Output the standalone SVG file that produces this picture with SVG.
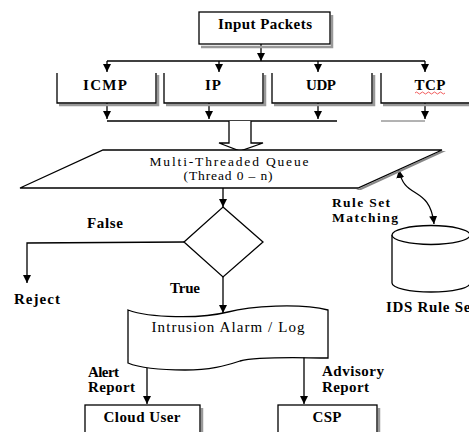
<svg xmlns="http://www.w3.org/2000/svg" width="469" height="432" viewBox="0 0 469 432">
<defs>
<style>
.ln{fill:none;stroke:#000;stroke-width:1.3}
.bx{fill:#fff;stroke:#000;stroke-width:1.3}
.sh{fill:none;stroke:#999;stroke-width:2.5}
.t{font-family:"Liberation Serif","Times New Roman",serif;font-size:15px;fill:#000;text-anchor:middle}
.s{font-size:13.5px}
.b{font-weight:bold}
.l{text-anchor:start}
</style>
<marker id="ah" viewBox="0 0 8 8" markerWidth="8" markerHeight="8" refX="8" refY="4" orient="auto-start-reverse" markerUnits="userSpaceOnUse">
<path d="M0,0 L8,4 L0,8 z" fill="#000"/>
</marker>
</defs>

<g id="connectors">
<line class="ln" x1="261" y1="44" x2="261" y2="61" marker-end="url(#ah)"/>
<line class="ln" x1="107" y1="61" x2="425" y2="61"/>
<line class="ln" x1="107" y1="61" x2="107" y2="72" marker-end="url(#ah)"/>
<line class="ln" x1="219" y1="61" x2="219" y2="72" marker-end="url(#ah)"/>
<line class="ln" x1="318" y1="61" x2="318" y2="72" marker-end="url(#ah)"/>
<line class="ln" x1="425" y1="61" x2="425" y2="72" marker-end="url(#ah)"/>
<line class="ln" x1="107" y1="103" x2="107" y2="119" marker-end="url(#ah)"/>
<line class="ln" x1="209" y1="103" x2="209" y2="119" marker-end="url(#ah)"/>
<line class="ln" x1="318" y1="103" x2="318" y2="119" marker-end="url(#ah)"/>
<line class="ln" x1="425" y1="103" x2="425" y2="119" marker-end="url(#ah)"/>
<line class="ln" x1="107" y1="121" x2="337" y2="121"/>
<line x1="381" y1="121" x2="425" y2="121" stroke="#666" stroke-width="1"/>
<polyline points="229,121 229,143 219,143 240,151 263,143 251,143 251,121" fill="#fff" stroke="#000" stroke-width="1.3"/>
<line class="ln" x1="223" y1="188" x2="223" y2="207" marker-end="url(#ah)"/>
<polyline class="ln" points="184,242 27,243 27,283" marker-end="url(#ah)"/>
<line class="ln" x1="223" y1="277" x2="223" y2="313" marker-end="url(#ah)"/>
<line class="ln" x1="147" y1="367" x2="147" y2="404" marker-end="url(#ah)"/>
<line class="ln" x1="304" y1="357" x2="304" y2="404" marker-end="url(#ah)"/>
<path class="ln" d="M399,170 C404,200 430,185 434,224" marker-start="url(#ah)" marker-end="url(#ah)"/>
</g>

<g id="input-packets">
<polyline class="sh" points="332,15 332,47 201,47"/>
<rect class="bx" x="199" y="12" width="131" height="32"/>
<text class="t b" x="265" y="29" textLength="94" lengthAdjust="spacing">Input Packets</text>
</g>

<g id="icmp">
<polyline class="sh" points="158,75 158,105 59,105"/>
<polyline class="bx" points="57,73 57,103 156,103 156,73"/>
<text class="t b" x="105" y="90" textLength="44" lengthAdjust="spacing">ICMP</text>
</g>
<g id="ip">
<polyline class="sh" points="265,75 265,105 166,105"/>
<polyline class="bx" points="164,73 164,103 263,103 263,73"/>
<text class="t b" x="213" y="90" textLength="16" lengthAdjust="spacing">IP</text>
</g>
<g id="udp">
<polyline class="sh" points="374,75 374,105 274,105"/>
<polyline class="bx" points="272,73 272,103 372,103 372,73"/>
<text class="t b" x="321" y="90" textLength="30" lengthAdjust="spacing">UDP</text>
</g>
<g id="tcp">
<polyline class="sh" points="383,105 469,105"/>
<polyline class="bx" points="381,73 381,103 470,103"/>
<text class="t b" x="430" y="90" textLength="31" lengthAdjust="spacing">TCP</text>
<path d="M415,93 q1.5,-2 3,0 t3,0 t3,0 t3,0 t3,0 t3,0 t3,0 t3,0 t3,0 t3,0" fill="none" stroke="#e33" stroke-width="0.8"/>
</g>

<g id="queue">
<polygon points="446,151 361,190 356,190 441,151" fill="#888"/>
<polygon class="bx" points="103,150 442,150 358,188 20,188"/>
<text class="t s" x="229" y="166" textLength="159" lengthAdjust="spacing">Multi-Threaded Queue</text>
<text class="t s" x="228" y="180" textLength="89" lengthAdjust="spacing">(Thread 0 – n)</text>
</g>

<g id="decision">
<polygon class="bx" points="223,207 263,242 223,277 184,242"/>
</g>

<g id="labels">
<text class="t b" x="105" y="228" textLength="36" lengthAdjust="spacing">False</text>
<text class="t b l" x="14" y="304" textLength="46" lengthAdjust="spacing">Reject</text>
<text class="t b" x="185" y="293" textLength="30" lengthAdjust="spacing">True</text>
<text class="t b l s" x="332" y="207" textLength="58" lengthAdjust="spacing">Rule Set</text>
<text class="t b l s" x="332" y="222" textLength="66" lengthAdjust="spacing">Matching</text>
<text class="t b l" x="88" y="377" textLength="31" lengthAdjust="spacing">Alert</text>
<text class="t b l" x="88" y="392" textLength="47" lengthAdjust="spacing">Report</text>
<text class="t b l" x="322" y="376" textLength="62" lengthAdjust="spacing">Advisory</text>
<text class="t b l" x="322" y="392" textLength="47" lengthAdjust="spacing">Report</text>
</g>

<g id="ids-rule-set">
<path class="bx" d="M392,235 L392,283 A39,9 0 0 0 470,283 L470,235"/>
<ellipse class="bx" cx="431" cy="235" rx="39" ry="9.5"/>
<text class="t b l" x="386" y="312" textLength="90" lengthAdjust="spacing">IDS Rule Set</text>
</g>

<g id="intrusion-log">
<path class="bx" d="M128,310 C150,318 200,319 228,312 C250,306 300,303 328,310 L328,358 C300,358 260,356 240,361 C225,366 210,370 185,370 C160,370 140,368 128,363 Z"/>
<text class="t" x="228" y="332" textLength="153" lengthAdjust="spacing">Intrusion Alarm / Log</text>
</g>

<g id="cloud-user">
<line class="sh" x1="202" y1="408" x2="202" y2="432"/>
<rect class="bx" x="85" y="405" width="115" height="30"/>
<text class="t b" x="142" y="422" textLength="77" lengthAdjust="spacing">Cloud User</text>
</g>

<g id="csp">
<line class="sh" x1="379" y1="408" x2="379" y2="432"/>
<rect class="bx" x="278" y="405" width="99" height="30"/>
<text class="t b" x="327" y="422" textLength="29" lengthAdjust="spacing">CSP</text>
</g>
</svg>
